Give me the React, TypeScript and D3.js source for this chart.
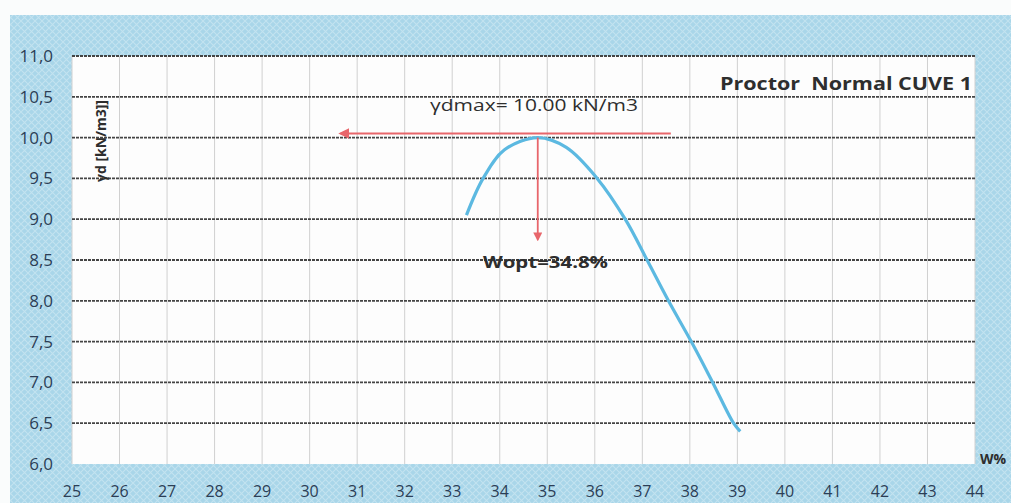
import * as d3 from "d3";

// Proctor curve (water content %, dry unit weight kN/m3)
const waterContent = [33.3, 33.65, 34.1, 34.8, 35.4, 36.05, 36.64, 37.1, 37.55, 38.03, 38.48, 38.92, 39.06];
const dryWeight = [9.05, 9.5, 9.85, 10.0, 9.88, 9.5, 9.0, 8.5, 8.0, 7.5, 7.0, 6.5, 6.4];

const xTicks = d3.range(25, 45);
const yTicks = [6.0, 6.5, 7.0, 7.5, 8.0, 8.5, 9.0, 9.5, 10.0, 10.5, 11.0];

// annotation arrows
const gammaArrow = { from: 37.6, to: 30.65, y: 10.05 };
const woptArrow = { x: 34.8, from: 10.0, to: 8.75 };

const width = 1011;
const height = 503;
const margin = { top: 56, right: 36, bottom: 39, left: 72 };

export default function App() {
  const x = d3.scaleLinear().domain([25, 44]).range([margin.left, width - margin.right]);
  const y = d3.scaleLinear().domain([6, 11]).range([height - margin.bottom, margin.top]);

  const pts = waterContent.map((w, i) => [w, dryWeight[i]] as [number, number]);
  const line = d3
    .line<[number, number]>()
    .x((d) => x(d[0]))
    .y((d) => y(d[1]))
    .curve(d3.curveCatmullRom.alpha(0.5));

  const fmt = (v: number) => v.toFixed(1).replace(".", ",");
  const red = "#e8666b";
  const ink = "#2e2e2e";

  return (
    <svg
      width={width}
      height={height}
      style={{ position: "absolute", left: 0, top: 0, fontFamily: "'Open Sans', sans-serif" }}
    >
      <defs>
        <pattern id="bg" width="7" height="7" patternUnits="userSpaceOnUse">
          <rect width="7" height="7" fill="#a9d6e9" />
          <path d="M0,0 L7,7 M7,0 L0,7" stroke="#c2e3f0" strokeWidth="1.1" />
        </pattern>
        <marker id="arr" viewBox="0 0 10 10" refX="8" refY="5" markerWidth="5" markerHeight="5" orient="auto">
          <path d="M0,0 L10,5 L0,10 z" fill={red} />
        </marker>
      </defs>
      <rect width={width} height={height} fill="#fafcfc" />
      <rect x={10} y={15} width={width - 10} height={height - 15} fill="url(#bg)" />
      <rect
        x={margin.left}
        y={margin.top}
        width={width - margin.left - margin.right}
        height={height - margin.top - margin.bottom}
        fill="#fdfdfd"
      />

      {xTicks.map((t) => (
        <line key={"vx" + t} x1={x(t)} x2={x(t)} y1={y(11)} y2={y(6)} stroke="#d0d0d0" strokeWidth={1} />
      ))}
      {yTicks.map((t) => (
        <line
          key={"hy" + t}
          x1={x(25)}
          x2={x(44)}
          y1={y(t)}
          y2={y(t)}
          stroke={t === 6 ? "none" : "#444"}
          strokeWidth={1.8}
          strokeDasharray="3,1"
        />
      ))}

      {yTicks.map((t) => (
        <text key={"yl" + t} x={53} y={y(t) + 6} textAnchor="end" fontSize={17} fill="#2c3e56">
          {fmt(t)}
        </text>
      ))}
      {xTicks.map((t) => (
        <text key={"xl" + t} x={x(t)} y={497} textAnchor="middle" fontSize={16} fill="#2c3e56">
          {t}
        </text>
      ))}

      <path d={line(pts) ?? ""} fill="none" stroke="#5cb9e1" strokeWidth={3.2} />

      <line
        x1={x(gammaArrow.from)}
        x2={x(gammaArrow.to)}
        y1={y(gammaArrow.y)}
        y2={y(gammaArrow.y)}
        stroke={red}
        strokeWidth={2.2}
        markerEnd="url(#arr)"
      />
      <line
        x1={x(woptArrow.x)}
        x2={x(woptArrow.x)}
        y1={y(woptArrow.from)}
        y2={y(woptArrow.to)}
        stroke={red}
        strokeWidth={1.8}
        markerEnd="url(#arr)"
      />

      <text x={430} y={111} fontSize={16} fill={ink} textLength={208} lengthAdjust="spacingAndGlyphs">
        γdmax= 10.00 kN/m3
      </text>
      <text x={483} y={268} fontSize={16} fontWeight="bold" fill={ink} textLength={125} lengthAdjust="spacingAndGlyphs">
        Wopt=34.8%
      </text>
      <text
        x={720}
        y={90}
        fontSize={18}
        fontWeight="bold"
        fill={ink}
        textLength={252}
        lengthAdjust="spacingAndGlyphs"
        style={{ whiteSpace: "pre" }}
      >
        Proctor  Normal CUVE 1
      </text>
      <text transform={`translate(${106},${182}) rotate(-90)`} fontSize={14} fontWeight="bold" fill={ink}>
        γd [kN/m3]]
      </text>
      <text x={980} y={464} fontSize={14} fontWeight="bold" fill={ink}>
        W%
      </text>
    </svg>
  );
}
